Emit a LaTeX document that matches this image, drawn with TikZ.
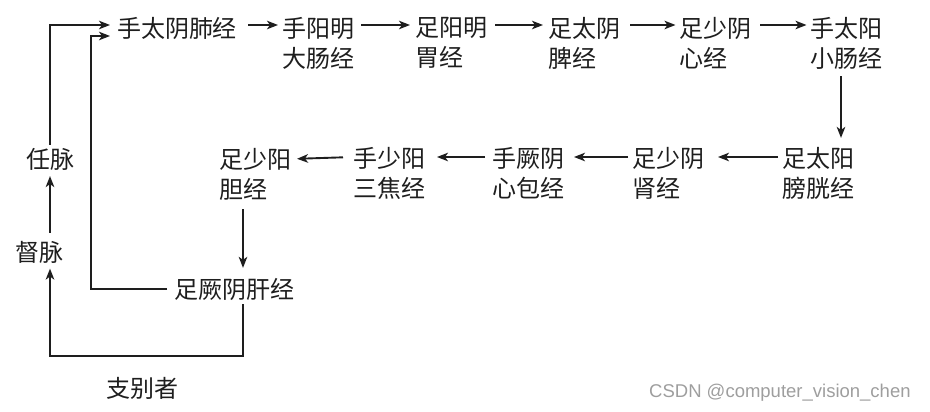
\documentclass[tikz,border=0pt]{standalone}
\usepackage{fontspec}
\newfontfamily\cjk{Noto Sans CJK SC}
\newfontfamily\wmfont{Liberation Sans}
\usetikzlibrary{arrows.meta}
\definecolor{ink}{HTML}{1E1E1E}
\tikzset{
  lbl/.style={inner sep=0pt, outer sep=0pt, anchor=west, align=left, text=ink,
              font=\cjk\fontsize{24}{30}\selectfont},
  arr/.style={draw=ink, line width=1.9pt,
              -{Stealth[length=11pt,width=8.5pt,inset=3pt]}},
  wm/.style={inner sep=0pt, anchor=west, text=black!38, font=\wmfont\fontsize{18.5}{20}\selectfont}
}
\begin{document}
\begin{tikzpicture}[x=1pt,y=-1pt]
\useasboundingbox (0,0) rectangle (930,412);
% row 1
\node[lbl] (lu)  at (117,28) {手太阴肺经};
\node[lbl] (n2)  at (282,43) {手阳明\\大肠经};
\node[lbl] (n3)  at (415,43) {足阳明\\胃经};
\node[lbl] (n4)  at (548,43) {足太阴\\脾经};
\node[lbl] (n5)  at (679,43) {足少阴\\心经};
\node[lbl] (n6)  at (810,43) {手太阳\\小肠经};
% row 2
\node[lbl] (n7)  at (782,173) {足太阳\\膀胱经};
\node[lbl] (n8)  at (632,173) {足少阴\\肾经};
\node[lbl] (n9)  at (492,173) {手厥阴\\心包经};
\node[lbl] (n10) at (353,173) {手少阳\\三焦经};
\node[lbl] (n11) at (219,174) {足少阳\\胆经};
% others
\node[lbl] (gan) at (174,289) {足厥阴肝经};
\node[lbl] (ren) at (27,159)  {任脉};
\node[lbl] (du)  at (16,252)  {督脉};
\node[lbl] (zhi) at (106,388) {支别者};
\node[wm]  (wmk) at (649,393) {CSDN @computer\_vision\_chen};
\coordinate (bend) at (91,288);

% row 1 arrows
\draw[arr, shorten <=11pt, shorten >=4pt] ([yshift=3pt]lu.east) -- ([yshift=18pt]n2.west);
\draw[arr, shorten <=7pt,  shorten >=5pt] ([yshift=18pt]n2.east) -- ([yshift=18pt]n3.west);
\draw[arr, shorten <=8pt,  shorten >=5pt] ([yshift=18pt]n3.east) -- ([yshift=18pt]n4.west);
\draw[arr, shorten <=10pt, shorten >=3.5pt] ([yshift=18pt]n4.east) -- ([yshift=18pt]n5.west);
\draw[arr, shorten <=9pt,  shorten >=3.5pt] ([yshift=18pt]n5.east) -- ([yshift=18pt]n6.west);
% down
\draw[arr, shorten <=7pt, shorten >=9pt] ([xshift=-5pt]n6.south) -- ([xshift=-5pt]n6.south |- n7.north);
% row 2 arrows
\draw[arr, shorten <=4pt,  shorten >=14pt] ([yshift=16pt]n7.west) -- ([yshift=16pt]n8.east);
\draw[arr, shorten <=4pt,  shorten >=10pt] ([yshift=16pt]n8.west) -- ([yshift=16pt]n9.east);
\draw[arr, shorten <=7pt,  shorten >=12pt] ([yshift=16pt]n9.west) -- ([yshift=16pt]n10.east);
\draw[arr, shorten <=10pt, shorten >=6pt]  ([yshift=16pt]n10.west) -- ([yshift=15pt]n11.east);
% down to gan
\draw[arr, shorten <=9pt, shorten >=10pt] ([xshift=-12pt]n11.south) -- ([xshift=-12pt]n11.south |- gan.north);
% gan back to lu
\draw[arr, shorten <=7pt, shorten >=7pt] (gan.west) -- (gan.west -| bend) |- ([yshift=-8pt]lu.west);
% outer loop through du, ren
\draw[arr, shorten <=4pt, shorten >=5.5pt] ([xshift=9pt]gan.south) -- ++(0,56) -| ([xshift=10pt]du.south);
\draw[arr, shorten <=8pt, shorten >=6pt] ([xshift=10pt]du.north) -- ([xshift=10pt]du.north |- ren.south);
\draw[arr, shorten <=3pt, shorten >=7pt] ([xshift=-1pt]ren.north) |- ([yshift=3pt]lu.west);
\end{tikzpicture}
\end{document}
